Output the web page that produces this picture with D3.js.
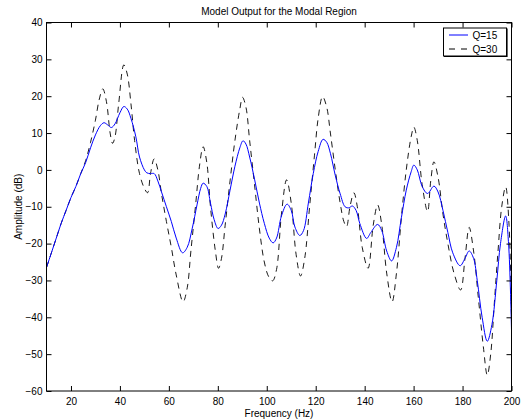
<!DOCTYPE html>
<html lang="en">
<head>
<meta charset="UTF-8">
<script src="https://d3js.org/d3.v7.min.js"></script>
<style>
  body { margin: 0; background: #fff; }
  svg text { font-family: "Liberation Sans", Arial, sans-serif; fill: #000; }
</style>
</head>
<body>
<script>
// frequency (Hz) / amplitude (dB)
const freq15 = [10, 12, 14, 16, 18, 20, 22, 24, 26, 28, 30, 32, 33.5, 35, 36.5, 38, 40, 41.6, 43, 44.5, 46.5, 48, 50, 51, 52.5, 54, 55.5, 57, 59, 61, 63, 65.6, 67.5, 69.5, 71.5, 73, 74, 75.5, 77, 78.5, 80.1, 81.5, 83, 85, 87, 89, 90.3, 91.5, 93, 95, 97, 99, 101, 102.6, 104, 106, 108.3, 110, 111.5, 113.5, 115, 117, 119, 121, 123, 124.5, 126, 128, 130, 132, 133.5, 135, 136.5, 138, 140.8, 142.5, 145.3, 147, 149, 151, 153, 155, 157, 159, 160.1, 161.5, 163.5, 165.7, 168.3, 170, 172, 174, 176, 179, 181, 182.7, 184.5, 186, 188, 190.1, 192, 194, 195.5, 197.6, 198.8, 200];
const amp15 = [-26.5, -22.5, -18.5, -14.5, -11, -7.5, -4.5, -1, 2, 6, 9.5, 12, 12.8, 12.2, 11.5, 12.5, 15.5, 17.2, 16.5, 14, 9, 3.5, 0, -0.8, -1, -1, -3, -6, -10, -14, -18.5, -22.5, -21, -16, -9.5, -5, -3.6, -4.5, -9, -13.5, -15.9, -15, -12, -5.5, 1, 6, 7.9, 7, 3.5, -2.5, -9, -14.5, -18.5, -19.8, -18.5, -12.5, -9.3, -11, -15.5, -17.8, -16.5, -9, -1, 5, 8.3, 7.5, 4.5, -1.5, -6.5, -10, -10.3, -9.8, -11, -14.5, -18.6, -17, -14.8, -16.5, -22, -24.7, -21, -13, -5.5, -0.5, 1.3, 0, -4.5, -6.4, -4.4, -6, -11, -17, -22.5, -26, -24, -22, -24, -30, -40, -46.5, -42, -30, -20, -12.5, -20, -43.5];

const freq30 = [10, 12, 14, 16, 18, 20, 22, 24, 26, 28, 30, 31.5, 33, 34.5, 36, 37, 38, 39.5, 41.6, 43, 44.5, 46, 48, 50, 51.3, 52.5, 54, 55.5, 57, 59, 61, 63, 65.8, 67.5, 69, 71, 72.5, 74, 75.5, 77, 79, 80.3, 81.5, 83, 85, 87, 89, 90.1, 91.5, 93, 95, 97, 99, 100.8, 102.4, 104, 106, 108.1, 110, 112, 113.8, 115.5, 117.5, 119.5, 121, 122.8, 124.5, 126, 128, 130, 131.5, 132.6, 134, 135.6, 137, 139, 141.4, 143.5, 145.3, 147, 149, 151.2, 153, 155, 157, 159, 160.1, 161.5, 163.5, 165.7, 167, 168.3, 170, 172, 174, 176.5, 179.2, 181, 182.7, 184.5, 186.5, 188.5, 190.1, 191.5, 193, 194.5, 196, 197.6, 199, 200];
const amp30 = [-26.5, -22.5, -18.5, -14.5, -11, -7.5, -4.5, -1, 2.5, 7.5, 13.5, 19, 22, 18.5, 10, 7.2, 9, 18, 28.5, 26, 18, 8, -1, -5, -6.2, -1, 3, 0, -6.5, -14, -21, -28.5, -35.8, -32, -22, -9, 1, 6.3, 2, -10, -22, -26.7, -24, -15, -3, 8, 16.5, 19.7, 17, 8, -4, -16, -25, -29, -30.1, -27, -12, -2.7, -9, -23, -28.8, -24, -10, 4, 14, 19.9, 17, 10, 0, -9, -14, -15.4, -10, -6.2, -10, -21, -26.7, -15, -9.5, -15, -28, -35.8, -28, -13, 0, 9, 11.6, 8, -4, -11.3, -3, 2.2, -2, -12, -20, -28, -32.6, -24, -15.6, -22, -35, -48, -55.7, -50, -36, -22, -10, -4.6, -15, -40];

const xTicks = [20, 40, 60, 80, 100, 120, 140, 160, 180, 200];
const yTicks = [-60, -50, -40, -30, -20, -10, 0, 10, 20, 30, 40];

const width = 521, height = 420;
const plotL = 46.5, plotR = 511.5, plotT = 22.5, plotB = 391;

const svg = d3.select("body").append("svg")
  .attr("width", width)
  .attr("height", height);

const x = d3.scaleLinear().domain([10, 200]).range([plotL, plotR]);
const y = d3.scaleLinear().domain([-60, 40]).range([plotB, plotT]);

// lines, clipped to the axes box
svg.append("clipPath").attr("id", "clip")
  .append("rect")
  .attr("x", plotL).attr("y", plotT)
  .attr("width", plotR - plotL).attr("height", plotB - plotT);

const line = d3.line()
  .x(d => x(d[0]))
  .y(d => y(d[1]))
  .curve(d3.curveCatmullRom.alpha(0.5));

svg.append("path")
  .datum(freq30.map((f, i) => [f, amp30[i]]))
  .attr("clip-path", "url(#clip)")
  .attr("fill", "none")
  .attr("stroke", "#000")
  .attr("stroke-width", 0.9)
  .attr("stroke-dasharray", "6,5")
  .attr("d", line);

svg.append("path")
  .datum(freq15.map((f, i) => [f, amp15[i]]))
  .attr("clip-path", "url(#clip)")
  .attr("fill", "none")
  .attr("stroke", "#0000ff")
  .attr("stroke-width", 1)
  .attr("d", line);

// axes with inward ticks on all four sides
const fontSize = "10px";
function styleAxis(g) {
  g.select(".domain").remove();
  g.selectAll("line").attr("stroke", "#000");
  g.selectAll("text").style("font-size", fontSize);
}

svg.append("g")
  .attr("transform", `translate(0,${plotB})`)
  .call(d3.axisBottom(x).tickValues(xTicks).tickSize(-5).tickPadding(7))
  .call(styleAxis);

svg.append("g")
  .attr("transform", `translate(0,${plotT})`)
  .call(d3.axisTop(x).tickValues(xTicks).tickSize(-5).tickFormat(""))
  .call(styleAxis);

svg.append("g")
  .attr("transform", `translate(${plotL},0)`)
  .call(d3.axisLeft(y).tickValues(yTicks).tickSize(-5).tickPadding(4))
  .call(styleAxis);

svg.append("g")
  .attr("transform", `translate(${plotR},0)`)
  .call(d3.axisRight(y).tickValues(yTicks).tickSize(-5).tickFormat(""))
  .call(styleAxis);

svg.append("rect")
  .attr("x", plotL).attr("y", plotT)
  .attr("width", plotR - plotL).attr("height", plotB - plotT)
  .attr("fill", "none")
  .attr("stroke", "#000")
  .attr("stroke-width", 1);

// labels
svg.append("text")
  .attr("x", (plotL + plotR) / 2).attr("y", 14.5)
  .attr("text-anchor", "middle")
  .style("font-size", fontSize)
  .text("Model Output for the Modal Region");

svg.append("text")
  .attr("x", (plotL + plotR) / 2).attr("y", 417)
  .attr("text-anchor", "middle")
  .style("font-size", fontSize)
  .text("Frequency (Hz)");

svg.append("text")
  .attr("transform", `translate(22,${(plotT + plotB) / 2}) rotate(-90)`)
  .attr("text-anchor", "middle")
  .style("font-size", fontSize)
  .text("Amplitude (dB)");

// legend
const legend = svg.append("g");
legend.append("rect")
  .attr("x", 443.5).attr("y", 28)
  .attr("width", 63).attr("height", 28)
  .attr("fill", "#fff")
  .attr("stroke", "#000")
  .attr("stroke-width", 1);
legend.append("path")
  .attr("d", "M444,56.5H507V28.5")
  .attr("fill", "none")
  .attr("stroke", "#000")
  .attr("stroke-width", 1.2);

const entries = [
  { label: "Q=15", color: "#0000ff", dash: null, cy: 35 },
  { label: "Q=30", color: "#000", dash: "6,6", cy: 49 }
];
entries.forEach(e => {
  legend.append("line")
    .attr("x1", 449).attr("x2", 468)
    .attr("y1", e.cy).attr("y2", e.cy)
    .attr("stroke", e.color)
    .attr("stroke-width", 1)
    .attr("stroke-dasharray", e.dash);
  legend.append("text")
    .attr("x", 472.5).attr("y", e.cy + 3.5)
    .style("font-size", fontSize)
    .text(e.label);
});
</script>
</body>
</html>
